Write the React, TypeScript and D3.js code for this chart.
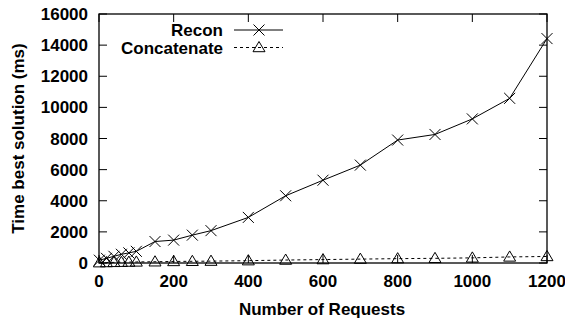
import { useEffect, useRef } from 'react';
import * as d3 from 'd3';

const requests = [1, 20, 40, 60, 80, 100, 150, 200, 250, 300, 400, 500, 600, 700, 800, 900, 1000, 1100, 1200];
const reconTimes = [180, 300, 430, 560, 650, 750, 1380, 1470, 1790, 2080, 2930, 4320, 5320, 6290, 7900, 8260, 9260, 10580, 14420];
const concatTimes = [20, 30, 40, 50, 60, 70, 80, 100, 110, 120, 150, 190, 220, 250, 280, 300, 330, 390, 420];
const xTicks = [0, 200, 400, 600, 800, 1000, 1200];
const yTicks = [0, 2000, 4000, 6000, 8000, 10000, 12000, 14000, 16000];

const W = 565;
const H = 320;

export default function App() {
  const svgRef = useRef<SVGSVGElement>(null);

  useEffect(() => {
    if (!svgRef.current) return;
    const svg = d3.select(svgRef.current);
    svg.selectAll('*').remove();

    const left = 99, right = 547, top = 14, bottom = 263;
    const x = d3.scaleLinear().domain([0, 1200]).range([left, right]);
    const y = d3.scaleLinear().domain([0, 16000]).range([bottom, top]);
    const font = 'Liberation Sans, Arial, sans-serif';
    const fs = 17;
    const tickLen = 8;

    const g = svg.append('g');

    // frame
    g.append('rect')
      .attr('x', left).attr('y', top)
      .attr('width', right - left).attr('height', bottom - top)
      .attr('fill', 'none').attr('stroke', '#000').attr('stroke-width', 1.3);

    // ticks (mirrored, inward)
    yTicks.forEach(t => {
      g.append('line').attr('x1', left).attr('x2', left + tickLen)
        .attr('y1', y(t)).attr('y2', y(t)).attr('stroke', '#000');
      g.append('line').attr('x1', right).attr('x2', right - tickLen)
        .attr('y1', y(t)).attr('y2', y(t)).attr('stroke', '#000');
      g.append('text').attr('x', 88).attr('y', y(t))
        .attr('dy', '0.36em').attr('text-anchor', 'end')
        .attr('font-family', font).attr('font-weight', 'bold').attr('font-size', fs)
        .text(t);
    });
    xTicks.forEach(t => {
      g.append('line').attr('x1', x(t)).attr('x2', x(t))
        .attr('y1', bottom).attr('y2', bottom - tickLen).attr('stroke', '#000');
      g.append('line').attr('x1', x(t)).attr('x2', x(t))
        .attr('y1', top).attr('y2', top + tickLen).attr('stroke', '#000');
      g.append('text').attr('x', x(t)).attr('y', 287)
        .attr('text-anchor', 'middle')
        .attr('font-family', font).attr('font-weight', 'bold').attr('font-size', fs)
        .text(t);
    });

    // axis labels
    g.append('text').attr('x', 322).attr('y', 314.5)
      .attr('text-anchor', 'middle')
      .attr('font-family', font).attr('font-weight', 'bold').attr('font-size', fs)
      .text('Number of Requests');
    g.append('text')
      .attr('transform', `translate(24,${(top + bottom) / 2}) rotate(-90)`)
      .attr('text-anchor', 'middle')
      .attr('font-family', font).attr('font-weight', 'bold').attr('font-size', fs)
      .text('Time best solution (ms)');

    const line = d3.line<[number, number]>().x(d => x(d[0])).y(d => y(d[1]));
    const reconPts = requests.map((r, i) => [r, reconTimes[i]] as [number, number]);
    const concatPts = requests.map((r, i) => [r, concatTimes[i]] as [number, number]);

    const drawCross = (cx: number, cy: number) => {
      const s = 5.5;
      g.append('path')
        .attr('d', `M${cx - s},${cy - s}L${cx + s},${cy + s}M${cx - s},${cy + s}L${cx + s},${cy - s}`)
        .attr('stroke', '#000').attr('stroke-width', 1).attr('fill', 'none');
    };
    const drawTri = (cx: number, cy: number) => {
      const s = 6;
      g.append('path')
        .attr('d', `M${cx},${cy - s}L${cx + s},${cy + s * 0.7}L${cx - s},${cy + s * 0.7}Z`)
        .attr('stroke', '#000').attr('stroke-width', 1).attr('fill', 'none');
    };

    g.append('path').datum(concatPts).attr('d', line)
      .attr('fill', 'none').attr('stroke', '#000').attr('stroke-width', 1)
      .attr('stroke-dasharray', '3,3');
    concatPts.forEach(p => drawTri(x(p[0]), y(p[1])));

    g.append('path').datum(reconPts).attr('d', line)
      .attr('fill', 'none').attr('stroke', '#000').attr('stroke-width', 1);
    reconPts.forEach(p => drawCross(x(p[0]), y(p[1])));

    // legend
    const lx1 = 234, lx2 = 283, lm = 259;
    g.append('text').attr('x', 223).attr('y', 30).attr('dy', '0.36em')
      .attr('text-anchor', 'end')
      .attr('font-family', font).attr('font-weight', 'bold').attr('font-size', fs)
      .text('Recon');
    g.append('line').attr('x1', lx1).attr('x2', lx2).attr('y1', 30).attr('y2', 30)
      .attr('stroke', '#000');
    drawCross(lm, 30);
    g.append('text').attr('x', 223).attr('y', 47.5).attr('dy', '0.36em')
      .attr('text-anchor', 'end')
      .attr('font-family', font).attr('font-weight', 'bold').attr('font-size', fs)
      .text('Concatenate');
    g.append('line').attr('x1', lx1).attr('x2', lx2).attr('y1', 47.5).attr('y2', 47.5)
      .attr('stroke', '#000').attr('stroke-dasharray', '3,3');
    drawTri(lm, 47.5);
  }, []);

  return (
    <svg ref={svgRef} width={W} height={H}
      style={{ position: 'absolute', left: 0, top: 0, background: '#fff' }} />
  );
}
